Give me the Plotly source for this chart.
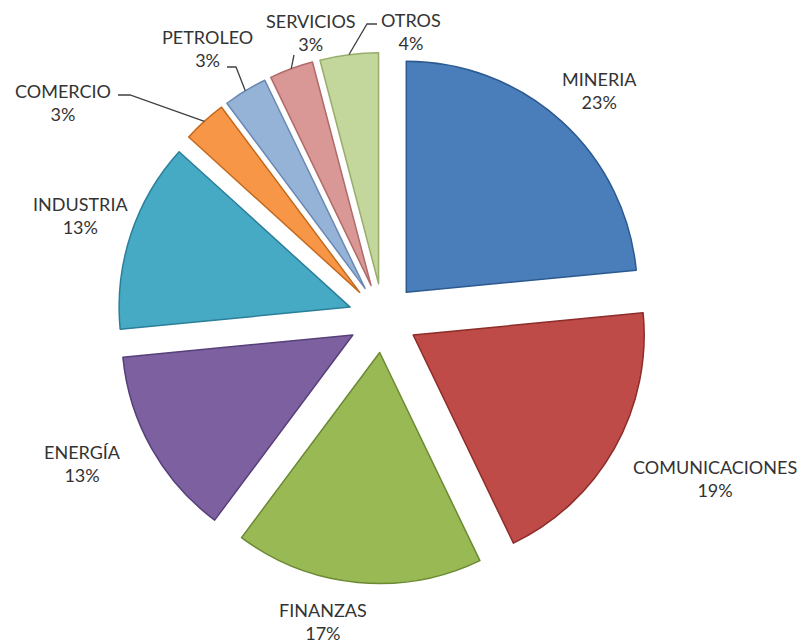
import math
import plotly.graph_objects as go

# ---- data ----
categories = ["MINERIA", "COMUNICACIONES", "FINANZAS", "ENERGÍA", "INDUSTRIA",
              "COMERCIO", "PETROLEO", "SERVICIOS", "OTROS"]
values = [23, 19, 17, 13, 13, 3, 3, 3, 4]

# ---- styles ----
colors = ["#4A7EBB", "#BE4B48", "#98B954", "#7D60A0", "#46AAC5",
          "#F79646", "#95B3D7", "#D99795", "#C3D69B"]
edge_colors = ["#2C5A8F", "#8C2D2A", "#6B8A33", "#57407A", "#2B7F98",
               "#C46A1E", "#6A88B3", "#B06A68", "#98AD6C"]

W, H = 801, 644
CX, CY = 383, 318      # pie centre in pixels
R = 231                # pie radius in pixels
PULL = 0.15            # explode fraction of radius

# label block centres (pixels) and leader-line start points (pixels)
label_pos = {
    "MINERIA": (599, 91), "COMUNICACIONES": (715, 478), "FINANZAS": (323, 621),
    "ENERGÍA": (82, 463), "INDUSTRIA": (80, 216), "COMERCIO": (63, 102),
    "PETROLEO": (207, 48), "SERVICIOS": (311, 33), "OTROS": (411, 31),
}
leader_start = {
    "COMERCIO": [(118, 95), (130, 95)],
    "PETROLEO": [(227, 67), (236, 67)],
    "SERVICIOS": [(294, 55)],
    "OTROS": [(377, 24), (367, 24)],
}

def px2paper(x, y):
    return x / W, 1 - y / H

outer = R * (1 + PULL)
fig = go.Figure(go.Pie(
    labels=categories, values=values, sort=False, direction="clockwise",
    rotation=0, pull=[PULL] * len(values), textinfo="none",
    marker=dict(colors=colors, line=dict(color=edge_colors, width=1.5)),
    domain=dict(x=[(CX - outer) / W, (CX + outer) / W],
                y=[1 - (CY + outer) / H, 1 - (CY - outer) / H]),
    showlegend=False,
))

total = sum(values)
annotations = []
shapes = []
cum = 0
for cat, v in zip(categories, values):
    mid = (cum + v / 2) / total * 2 * math.pi
    cum += v
    pct = round(v / total * 100)
    lx, ly = label_pos[cat]
    px_, py_ = px2paper(lx, ly)
    annotations.append(dict(
        x=px_, y=py_, xref="paper", yref="paper", showarrow=False,
        xanchor="center", yanchor="middle",
        text=f"{cat}<br>{pct}%", align="center",
        font=dict(family="Lato", size=18, color="#333333"),
    ))
    if cat in leader_start:
        dx, dy = math.sin(mid), -math.cos(mid)
        ex = CX + (R * PULL + R) * dx
        ey = CY + (R * PULL + R) * dy
        pts = leader_start[cat] + [(ex, ey)]
        path = ""
        for i, (x, y) in enumerate(pts):
            a, b = px2paper(x, y)
            path += ("M" if i == 0 else " L") + f" {a:.5f},{b:.5f}"
        shapes.append(dict(type="path", path=path, xref="paper", yref="paper",
                           line=dict(color="#404040", width=1.3)))

fig.update_layout(
    width=W, height=H, margin=dict(l=0, r=0, t=0, b=0, autoexpand=False),
    paper_bgcolor="white", plot_bgcolor="white",
    annotations=annotations, shapes=shapes,
)
fig.write_html("out.html", config={"displayModeBar": False},
               post_script="document.body.style.margin='0px';")
